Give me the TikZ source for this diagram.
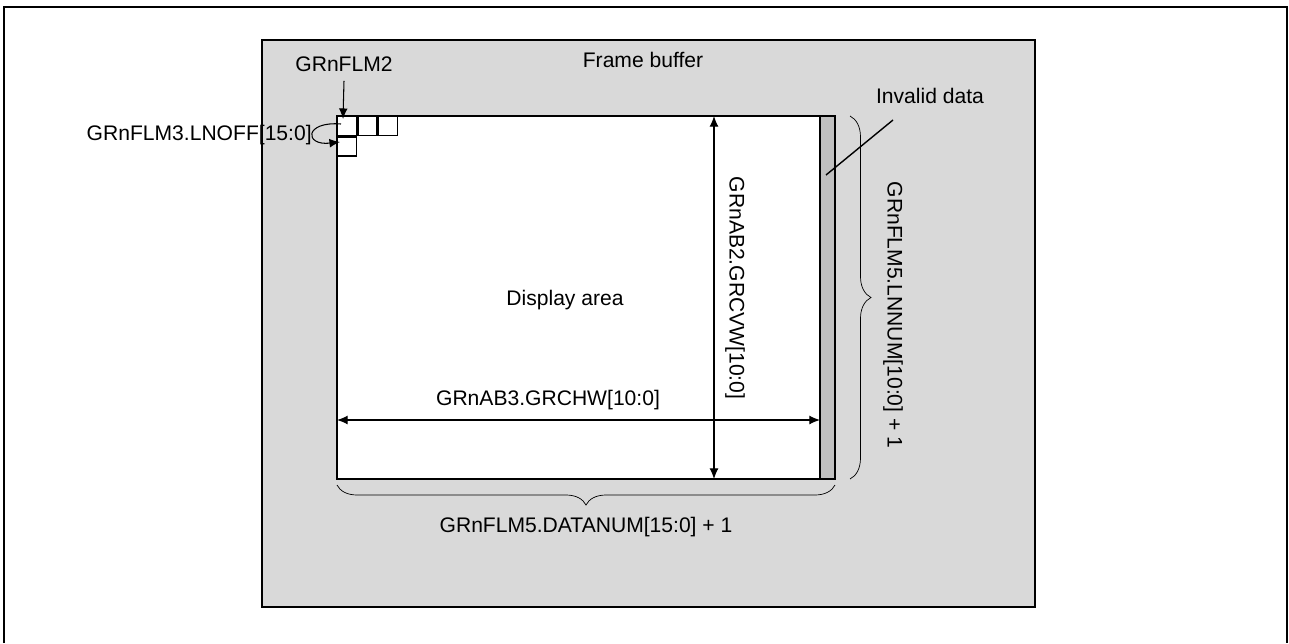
\documentclass[tikz,border=0pt]{standalone}
\usepackage{fontspec}
\setmainfont{Liberation Sans}
\usetikzlibrary{arrows.meta, positioning, decorations.pathreplacing}
\definecolor{fbgray}{HTML}{D9D9D9}
\definecolor{invgray}{HTML}{C0C0C0}

\begin{document}
\begin{tikzpicture}[x=0.02cm, y=-0.02cm,
    every node/.style={font=\fontsize{12}{14}\selectfont, inner sep=0pt},
    dim/.style={{Latex[length=6pt,width=5pt]}-{Latex[length=6pt,width=5pt]}, line width=0.6pt},
    tag/.style={-{Latex[length=6pt,width=5pt]}, line width=0.6pt},
    cell/.style={draw, line width=0.8pt, minimum size=0.38cm, anchor=north west},
    brc/.style={decorate, decoration={brace, amplitude=0.42cm}, line width=0.4pt},
]
    \useasboundingbox (0,0) rectangle (1289,643);
    % outer frame
    \draw[line width=1.4pt] (4,643) -- (4,7) -- (1287,7) -- (1287,643);

    % frame buffer and display area
    \draw[line width=0.9pt, fill=fbgray] (262,40) rectangle (1035,607);
    \node (fb) at (643,60) {Frame buffer};
    \draw[line width=0.9pt, fill=white] (337,116) rectangle (820,479);
    \draw[line width=0.9pt, fill=invgray] (820,116) rectangle (835,479);
    \node (disp) at (565,300) {Display area};

    % first cells of the buffer
    \node[cell] (c1) at (337,116) {};
    \node[cell, right=0pt of c1] (c2) {};
    \node[cell, right=0pt of c2] (c3) {};
    \node[cell, below=0pt of c1] (c4) {};

    \node (flm2) at (344,64) {GRnFLM2};
    \coordinate (flm2-end) at (343,119);
    \draw[tag] ([yshift=-0.18cm]flm2.south) -- (flm2-end);

    \node[anchor=east] (lnoff) at (312,135) {GRnFLM3.LNOFF[15:0]};
    \coordinate (lp-a) at (341,124);
    \coordinate (lp-b) at (340,142);
    \draw[tag] (lp-a) .. controls (304,121) and (304,146) .. (lp-b);

    % invalid data
    \node (inv) at (930,96) {Invalid data};
    \coordinate (inv-a) at (826,175);
    \coordinate (inv-b) at (893,120);
    \draw[line width=0.8pt] (inv-a) -- (inv-b);

    % display size
    \coordinate (hw-l) at (337,420);
    \coordinate (hw-r) at (820,420);
    \draw[dim] (hw-l) -- (hw-r);
    \node (chw) at (548,400) {GRnAB3.GRCHW[10:0]};
    \coordinate (vw-t) at (714,116);
    \coordinate (vw-b) at (714,479);
    \draw[dim] (vw-t) -- (vw-b);
    \node[rotate=-90] (cvw) at (735,288) {GRnAB2.GRCVW[10:0]};

    % braces
    \coordinate (rb-t) at (850,116);
    \coordinate (rb-b) at (850,479);
    \draw[brc] (rb-t) -- (rb-b);
    \node[rotate=-90] (lnnum) at (893,315) {GRnFLM5.LNNUM[10:0] + 1};
    \coordinate (bb-r) at (835,485);
    \coordinate (bb-l) at (337,485);
    \draw[brc, decoration={amplitude=0.4cm}] (bb-r) -- (bb-l);
    \node (datanum) at (586,527) {GRnFLM5.DATANUM[15:0] + 1};
\end{tikzpicture}
\end{document}
